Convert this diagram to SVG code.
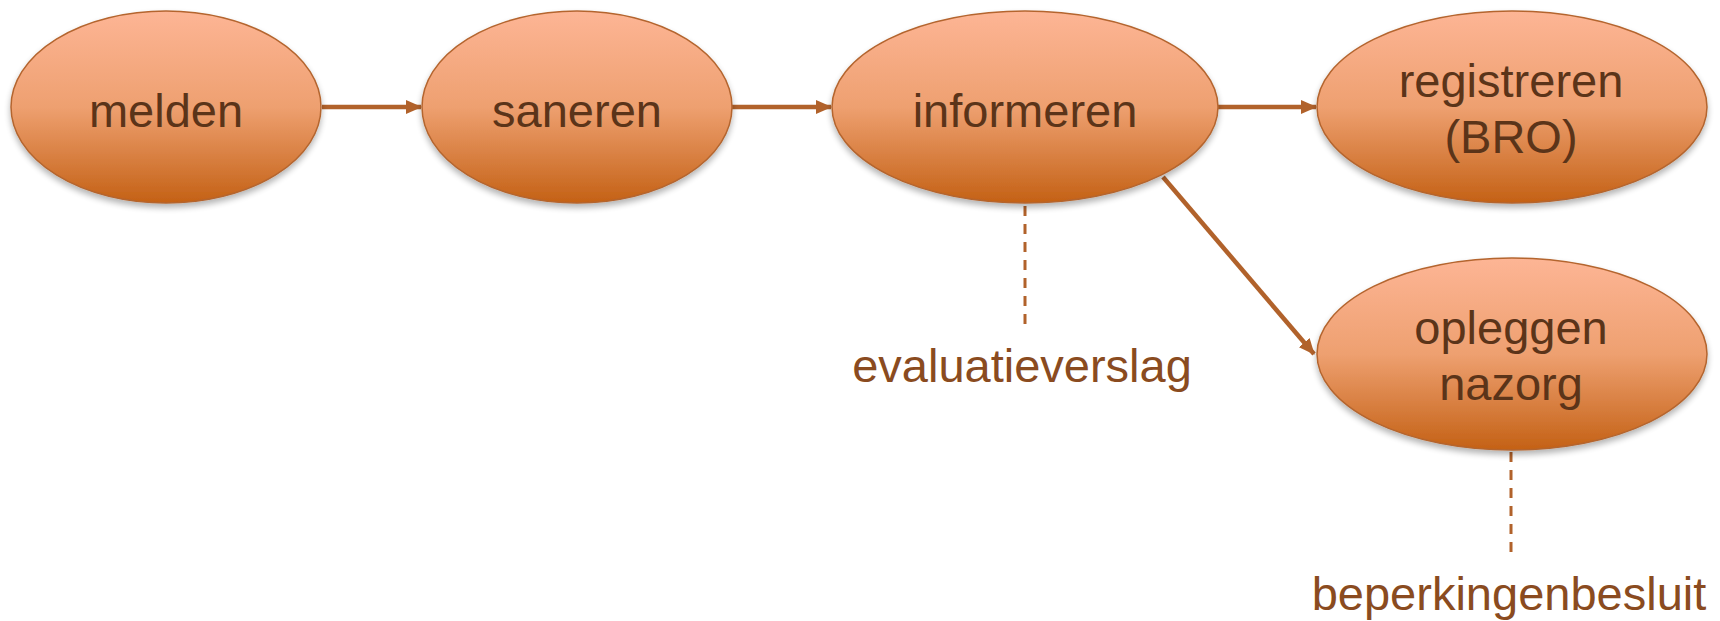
<svg xmlns="http://www.w3.org/2000/svg" width="1720" height="621" viewBox="0 0 1720 621">
<defs>
<linearGradient id="g" x1="0" y1="0" x2="0" y2="1">
<stop offset="0" stop-color="#fdb595"/>
<stop offset="0.5" stop-color="#eea070"/>
<stop offset="1" stop-color="#c46115"/>
</linearGradient>
<filter id="sh" x="-10%" y="-10%" width="120%" height="130%">
<feGaussianBlur in="SourceAlpha" stdDeviation="3"/>
<feOffset dy="4"/>
<feComponentTransfer><feFuncA type="linear" slope="0.3"/></feComponentTransfer>
<feMerge><feMergeNode/><feMergeNode in="SourceGraphic"/></feMerge>
</filter>
<marker id="ah" markerWidth="16" markerHeight="14" refX="15" refY="7" orient="auto" markerUnits="userSpaceOnUse">
<path d="M0,0 L16,7 L0,14 Z" fill="#b1622b"/>
</marker>
<style>
.node ellipse{fill:url(#g);stroke:#b4652f;stroke-width:1.5;filter:url(#sh)}
.node text{font-family:"Liberation Sans",Arial,sans-serif;font-size:47px;fill:#5b3419;text-anchor:middle}
.lbl{font-family:"Liberation Sans",Arial,sans-serif;font-size:47px;fill:#8a4b20;text-anchor:middle}
.conn line{stroke:#b1622b;stroke-width:4.5}
.conn .arr{marker-end:url(#ah)}
.conn .dash{stroke-width:3;stroke-dasharray:10 8}
</style>
</defs>
<rect width="1720" height="621" fill="#ffffff"/>
<g id="connectors" class="conn">
<line class="arr" x1="322" y1="107" x2="421" y2="107"/>
<line class="arr" x1="732" y1="107" x2="831" y2="107"/>
<line class="arr" x1="1218" y1="107" x2="1316" y2="107"/>
<line class="arr" x1="1163" y1="177" x2="1314" y2="354"/>
<line class="dash" x1="1025" y1="206" x2="1025" y2="326"/>
<line class="dash" x1="1511" y1="452" x2="1511" y2="556"/>
</g>
<g id="melden" class="node">
<ellipse cx="166" cy="107" rx="155" ry="96"/>
<text x="166" y="127">melden</text>
</g>
<g id="saneren" class="node">
<ellipse cx="577" cy="107" rx="155" ry="96"/>
<text x="577" y="127">saneren</text>
</g>
<g id="informeren" class="node">
<ellipse cx="1025" cy="107" rx="193" ry="96"/>
<text x="1025" y="127">informeren</text>
</g>
<g id="registreren" class="node">
<ellipse cx="1512" cy="107" rx="195" ry="96"/>
<text x="1511" y="97">registreren</text>
<text x="1511" y="153">(BRO)</text>
</g>
<g id="opleggen" class="node">
<ellipse cx="1512" cy="354" rx="195" ry="96"/>
<text x="1511" y="344">opleggen</text>
<text x="1511" y="400">nazorg</text>
</g>
<g id="evaluatieverslag">
<text class="lbl" x="1022" y="382">evaluatieverslag</text>
</g>
<g id="beperkingenbesluit">
<text class="lbl" x="1509" y="610">beperkingenbesluit</text>
</g>
</svg>
